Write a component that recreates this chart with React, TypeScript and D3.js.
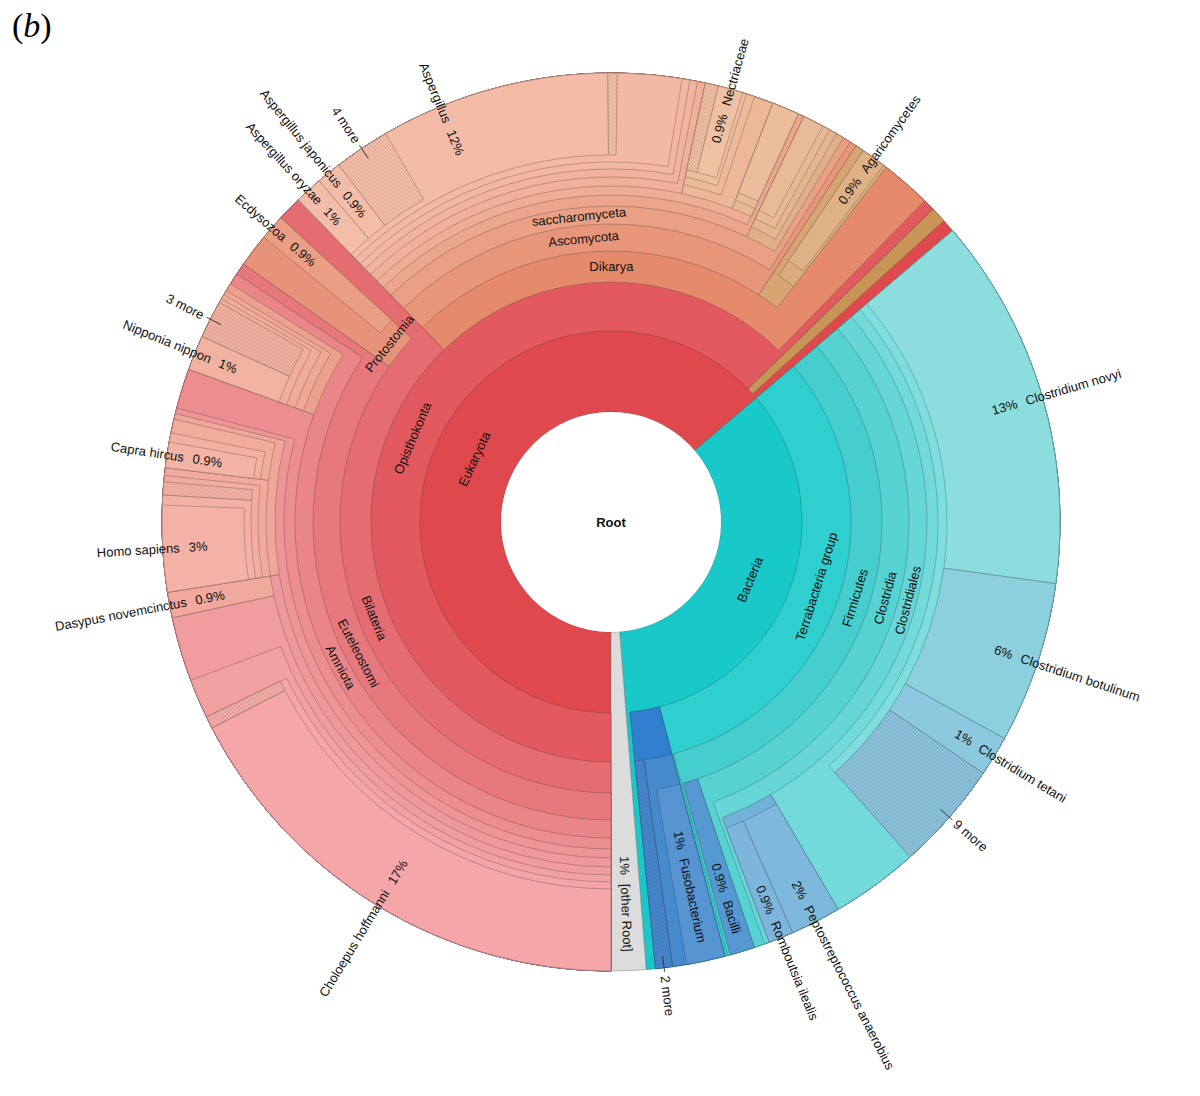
import React, { useMemo } from "react";
import * as d3 from "d3";

type Row = [string, string, number];

// ---------- data: [name, parent, value (% of reads assigned directly)] ----------
// rows ending with "#" are the unassigned remainder of their parent
const rootRow: Row[] = [["Root", "", 0]];

const eukaryoteRows: Row[] = [
  ["Eukaryota", "Root", 0],
  ["Opisthokonta", "Eukaryota", 0],
  ["Bilateria", "Opisthokonta", 0],
  ["Euteleostomi", "Bilateria", 0],
  ["Amniota", "Euteleostomi", 0],
  ["Mammalia", "Amniota", 0],
  ["Eutheria", "Mammalia", 0],
  ["Xenarthra", "Eutheria", 0],
  ["Pilosa", "Xenarthra", 0],
  ["Folivora", "Pilosa", 0],
  ["Choloepus", "Folivora", 0],
  ["Choloepus hoffmanni", "Choloepus", 17.4],
  ["Choloepus (more)", "Choloepus", 0.44],
  ["Folivora#", "Folivora", 1.41],
  ["Pilosa#", "Pilosa", 2.31],
  ["Dasypus novemcinctus", "Xenarthra", 0.92],
  ["Boreoeutheria", "Eutheria", 0],
  ["Euarchontoglires", "Boreoeutheria", 0],
  ["Primates", "Euarchontoglires", 0],
  ["Hominidae", "Primates", 0],
  ["Homo sapiens", "Hominidae", 3.1],
  ["Hominidae#", "Hominidae", 0.36],
  ["Primates (more)", "Primates", 0.47],
  ["Primates#", "Primates", 0.22],
  ["Euarchontoglires#", "Euarchontoglires", 0.28],
  ["Laurasiatheria", "Boreoeutheria", 0],
  ["Bovidae", "Laurasiatheria", 0],
  ["Capra hircus", "Bovidae", 0.92],
  ["Bovidae#", "Bovidae", 0.33],
  ["Laurasiatheria#", "Laurasiatheria", 0.5],
  ["Boreoeutheria#", "Boreoeutheria", 0.2],
  ["Eutheria#", "Eutheria", 0.2],
  ["Mammalia#", "Mammalia", 1.44],
  ["Sauropsida", "Amniota", 0],
  ["Aves", "Sauropsida", 0],
  ["Neognathae", "Aves", 0],
  ["Pelecaniformes", "Neognathae", 0],
  ["Nipponia nippon", "Pelecaniformes", 1.25],
  ["3 more", "Pelecaniformes", 1.36],
  ["Pelecaniformes#", "Pelecaniformes", 0.14],
  ["Neognathae#", "Neognathae", 0.17],
  ["Aves#", "Aves", 0.17],
  ["Sauropsida#", "Sauropsida", 0.28],
  ["Amniota#", "Amniota", 0.42],
  ["Euteleostomi#", "Euteleostomi", 0.42],
  ["Protostomia", "Bilateria", 0],
  ["Protostomia#", "Protostomia", 1.19],
  ["Ecdysozoa", "Protostomia", 0.92],
  ["Bilateria#", "Bilateria", 0.89],
];

const fungiRows: Row[] = [
  ["Dikarya", "Opisthokonta", 0],
  ["Ascomycota", "Dikarya", 0],
  ["saccharomyceta", "Ascomycota", 0],
  ["Pezizomycotina", "saccharomyceta", 0],
  ["leotiomyceta", "Pezizomycotina", 0],
  ["Eurotiomycetes", "leotiomyceta", 0],
  ["Eurotiomycetidae", "Eurotiomycetes", 0],
  ["Eurotiales", "Eurotiomycetidae", 0],
  ["Aspergillaceae", "Eurotiales", 0],
  ["Aspergillus", "Aspergillaceae", 0],
  ["Aspergillus oryzae", "Aspergillus", 1.0],
  ["Aspergillus japonicus", "Aspergillus", 0.89],
  ["4 more", "Aspergillus", 2.0],
  ["Aspergillus#", "Aspergillus", 8.25],
  ["Aspergillaceae (more)", "Aspergillaceae", 0.33],
  ["Aspergillaceae#", "Aspergillaceae", 2.31],
  ["Eurotiales#", "Eurotiales", 0.28],
  ["Eurotiomycetidae#", "Eurotiomycetidae", 0.28],
  ["Eurotiomycetes#", "Eurotiomycetes", 0.28],
  ["Sordariomycetes", "leotiomyceta", 0],
  ["Hypocreomycetidae", "Sordariomycetes", 0],
  ["Hypocreales", "Hypocreomycetidae", 0],
  ["Hypocreales (more)", "Hypocreales", 0.47],
  ["Nectriaceae", "Hypocreales", 0.89],
  ["Hypocreales#", "Hypocreales", 0.14],
  ["Hypocreomycetidae#", "Hypocreomycetidae", 0.3],
  ["Sordariomycetes#", "Sordariomycetes", 0.7],
  ["Dothideomycetes", "leotiomyceta", 0],
  ["Pleosporomycetidae", "Dothideomycetes", 0],
  ["Pleosporales", "Pleosporomycetidae", 0.97],
  ["Pezizomycotina#", "Pezizomycotina", 0.22],
  ["Saccharomycotina", "saccharomyceta", 0],
  ["Saccharomycetes", "Saccharomycotina", 0],
  ["Saccharomycetales", "Saccharomycetes", 0],
  ["Debaryomycetaceae", "Saccharomycetales", 0.75],
  ["Saccharomycetales#", "Saccharomycetales", 0.28],
  ["Saccharomycetes#", "Saccharomycetes", 0.28],
  ["Saccharomycotina#", "Saccharomycotina", 0.28],
  ["saccharomyceta#", "saccharomyceta", 0.28],
  ["Ascomycota#", "Ascomycota", 0.25],
  ["Basidiomycota", "Dikarya", 0],
  ["Basidiomycota#", "Basidiomycota", 0.31],
  ["Agaricomycotina", "Basidiomycota", 0],
  ["Agaricomycetes", "Agaricomycotina", 0.89],
  ["Agaricomycotina#", "Agaricomycotina", 0.11],
  ["Dikarya#", "Dikarya", 1.81],
  ["Opisthokonta#", "Opisthokonta", 0.42],
  ["Sar", "Eukaryota", 0.56],
  ["Eukaryota#", "Eukaryota", 0.47],
];

const bacteriaRows: Row[] = [
  ["Bacteria", "Root", 0],
  ["Terrabacteria group", "Bacteria", 0],
  ["Firmicutes", "Terrabacteria group", 0],
  ["Clostridia", "Firmicutes", 0],
  ["Clostridiales", "Clostridia", 0],
  ["Clostridiaceae", "Clostridiales", 0],
  ["Clostridium", "Clostridiaceae", 0],
  ["Clostridium novyi", "Clostridium", 13.42],
  ["Clostridium botulinum", "Clostridium", 5.81],
  ["Clostridium tetani", "Clostridium", 1.44],
  ["9 more", "Clostridium", 3.94],
  ["Clostridiaceae#", "Clostridiaceae", 3.17],
  ["Peptostreptococcaceae", "Clostridiales", 0],
  ["Peptostreptococcus anaerobius", "Peptostreptococcaceae", 1.81],
  ["Romboutsia ilealis", "Peptostreptococcaceae", 0.89],
  ["Clostridiales#", "Clostridiales", 0.17],
  ["Clostridia#", "Clostridia", 0.39],
  ["Bacilli", "Firmicutes", 0.89],
  ["Firmicutes#", "Firmicutes", 0.1],
  ["Terrabacteria group#", "Terrabacteria group", 0.1],
  ["Fusobacteria", "Bacteria", 0],
  ["Fusobacteriales", "Fusobacteria", 0],
  ["Fusobacterium", "Fusobacteriales", 1.39],
  ["Fusobacteriales#", "Fusobacteriales", 0.5],
  ["2 more", "Fusobacteria", 0.61],
  ["Bacteria#", "Bacteria", 0.33],
];

const otherRows: Row[] = [["[other Root]", "Root", 1.25]];

const tangentialLabels = [
  "Eukaryota", "Opisthokonta", "Bilateria", "Euteleostomi", "Amniota", "Protostomia",
  "Dikarya", "Ascomycota", "saccharomyceta",
  "Bacteria", "Terrabacteria group", "Firmicutes", "Clostridia", "Clostridiales",
];

const leafLabels = [
  "Choloepus hoffmanni", "Dasypus novemcinctus", "Homo sapiens", "Capra hircus",
  "Nipponia nippon", "3 more", "Ecdysozoa", "Aspergillus oryzae", "Aspergillus japonicus",
  "4 more", "Aspergillus", "Nectriaceae", "Agaricomycetes",
  "Clostridium novyi", "Clostridium botulinum", "Clostridium tetani", "9 more",
  "Peptostreptococcus anaerobius", "Romboutsia ilealis", "Bacilli", "Fusobacterium",
  "2 more", "[other Root]",
];

const hatchedGroups = [
  "Choloepus (more)", "Primates (more)", "3 more", "4 more", "Aspergillaceae (more)",
  "Hypocreales (more)", "9 more", "2 more",
];

// ---------- layout / style ----------
const W = 1200;
const H = 1096;
const CX = 611;
const CY = 522;
const R = 449;
const RING = [110, 191, 240, 271, 298, 316, 327, 336, 345, 353, 360, 367, 373, 379, 385, 390];
const START = Math.PI; // first top-level wedge starts at 6 o'clock
const FONT = '"Liberation Sans", Arial, Helvetica, sans-serif';
const FS = 13;
const GAP = 9;

const eukHue = d3.scaleLinear().domain([0, 0.3, 0.35, 0.5, 0.6, 0.8, 0.9, 1]).range([-2, 5, 9, 13, 16, 21, 27, 33]);
const bacHue = d3.scaleLinear().domain([0, 0.38, 0.55, 0.6, 0.8, 0.88, 0.92, 1]).range([180, 190, 196, 200, 203, 207, 210, 212]);
const eukL = [58, 62, 66, 69, 72, 74, 76, 77, 78, 79, 80, 80.5, 81, 81.5, 82];
const eukS = [70, 70, 70, 70, 71, 72, 73, 74, 75, 76, 77, 78, 78, 78, 78];
const bacL = [44, 50, 54, 58, 62, 65, 68, 71, 73, 74, 75];
const bacS = [78, 62, 58, 58, 58, 58, 58, 56, 56, 56, 56];

type PNode = d3.HierarchyRectangularNode<Row>;

function colorOf(n: PNode): string {
  if (n.data[0] === "[other Root]") return "#dcdcdc";
  let b: PNode = n;
  while (b.depth > 1 && b.parent) b = b.parent;
  const f = (n.x0 - b.x0) / (b.x1 - b.x0 || 1);
  const i = Math.min(n.depth - 1, 14);
  if (b.data[0] === "Bacteria") {
    return d3.hsl(bacHue(f), bacS[Math.min(i, 10)] / 100, bacL[Math.min(i, 10)] / 100).formatHex();
  }
  const h = eukHue(f);
  const l = eukL[i] - Math.max(0, h - 20) * 0.45;
  const s = eukS[i] - Math.max(0, h - 20) * 1.6;
  return d3.hsl(h, s / 100, l / 100).formatHex();
}

function fmtPct(p: number): string {
  return p < 1 ? `${p.toFixed(1)}%` : `${Math.round(p)}%`;
}

export default function App() {
  const root = useMemo(() => {
    const rows: Row[] = [...rootRow, ...eukaryoteRows, ...fungiRows, ...bacteriaRows, ...otherRows];
    const h = d3
      .stratify<Row>()
      .id((d) => d[0])
      .parentId((d) => (d[1] === "" ? null : d[1]))(rows);
    h.sum((d) => d[2]);
    return d3.partition<Row>().size([2 * Math.PI, 1])(h) as PNode;
  }, []);

  const measure = useMemo(() => {
    const ctx = document.createElement("canvas").getContext("2d");
    if (ctx) ctx.font = `${FS}px ${FONT}`;
    return (s: string) => (ctx ? ctx.measureText(s).width : s.length * 7);
  }, []);

  const nodes = root.descendants().filter((n) => n.depth > 0);
  const byName = new Map<string, PNode>();
  nodes.forEach((n) => byName.set(n.data[0], n));
  const total = root.value || 1;
  const arcGen = d3.arc<any>();
  const toDark = (c: string) => d3.interpolateRgb(c, "#1e1e1e")(0.42);

  const drawn = nodes.filter((n) => !n.data[0].endsWith("#"));

  const wedges = drawn.map((n) => {
    const fill = colorOf(n);
    const d = arcGen({
      innerRadius: RING[n.depth - 1],
      outerRadius: R,
      startAngle: START + n.x0,
      endAngle: START + n.x1,
    }) as string;
    const hatched = hatchedGroups.includes(n.data[0]);
    return (
      <g key={n.data[0]}>
        <path d={d} fill={fill} stroke={toDark(fill)} strokeWidth={0.75} strokeOpacity={0.8} />
        {hatched && <path d={d} fill="url(#hatch)" stroke="none" />}
      </g>
    );
  });

  const tLabels = tangentialLabels.map((name) => {
    const n = byName.get(name)!;
    const mid = START + (n.x0 + n.x1) / 2;
    const deg = (((mid * 180) / Math.PI) % 360 + 360) % 360;
    const r = (RING[n.depth - 1] + RING[n.depth]) / 2;
    const x = CX + r * Math.sin(mid);
    const y = CY - r * Math.cos(mid);
    const rot = deg > 90 && deg < 270 ? deg + 180 : deg;
    return (
      <text
        key={"t" + name}
        x={x}
        y={y}
        transform={`rotate(${rot},${x},${y})`}
        textAnchor="middle"
        dominantBaseline="central"
        fontSize={FS}
        fontFamily={FONT}
        fill="#111"
      >
        {name}
      </text>
    );
  });

  const lLabels = leafLabels.map((name) => {
    const n = byName.get(name)!;
    const mid = START + (n.x0 + n.x1) / 2;
    const deg = (((mid * 180) / Math.PI) % 360 + 360) % 360;
    const right = deg < 180;
    const rot = right ? deg - 90 : deg + 90;
    const s = right ? 1 : -1;
    const isMore = /^\d+ more$/.test(name);
    if (isMore) {
      return (
        <g key={"l" + name} transform={`translate(${CX},${CY}) rotate(${rot})`}>
          <line x1={s * (R - 12)} x2={s * (R + 4)} y1={0} y2={0} stroke="#333" strokeWidth={0.9} />
          <text
            x={s * (R + 8)}
            y={0}
            textAnchor={right ? "start" : "end"}
            dominantBaseline="central"
            fontSize={FS}
            fontFamily={FONT}
            fill="#111"
          >
            {name}
          </text>
        </g>
      );
    }
    const pct = fmtPct(((n.value || 0) / total) * 100);
    const wName = measure(name);
    const wPct = measure(pct);
    const inner = RING[n.depth - 1];
    let nameStart: number;
    if (wPct + GAP + wName <= R - 19 - inner - 40) {
      nameStart = R - 19 - wName;
    } else {
      nameStart = R - 17;
    }
    const pctEnd = nameStart - GAP;
    return (
      <g key={"l" + name} transform={`translate(${CX},${CY}) rotate(${rot})`}>
        <text
          x={s * pctEnd}
          y={0}
          textAnchor={right ? "end" : "start"}
          dominantBaseline="central"
          fontSize={FS}
          fontFamily={FONT}
          fill="#111"
        >
          {pct}
        </text>
        <text
          x={s * nameStart}
          y={0}
          textAnchor={right ? "start" : "end"}
          dominantBaseline="central"
          fontSize={FS}
          fontFamily={FONT}
          fill="#111"
        >
          {name}
        </text>
      </g>
    );
  });

  return (
    <svg width={W} height={H} style={{ position: "absolute", left: 0, top: 0 }}>
      <defs>
        <pattern id="hatch" width={4} height={4} patternUnits="userSpaceOnUse">
          <path d="M0,4 L4,0 M0,0 L4,4" stroke="rgba(0,0,0,0.13)" strokeWidth={0.6} />
        </pattern>
      </defs>
      <rect x={0} y={0} width={W} height={H} fill="#fff" />
      <g transform={`translate(${CX},${CY})`}>{wedges}</g>
      <circle cx={CX} cy={CY} r={RING[0]} fill="#fff" />
      <text
        x={CX}
        y={CY}
        textAnchor="middle"
        dominantBaseline="central"
        fontSize={FS}
        fontWeight="bold"
        fontFamily={FONT}
        fill="#111"
      >
        Root
      </text>
      {tLabels}
      {lLabels}
      <text x={12} y={37} fontSize={34} fontFamily='"Liberation Serif", "Times New Roman", serif' fill="#000">
        (<tspan fontStyle="italic">b</tspan>)
      </text>
    </svg>
  );
}
